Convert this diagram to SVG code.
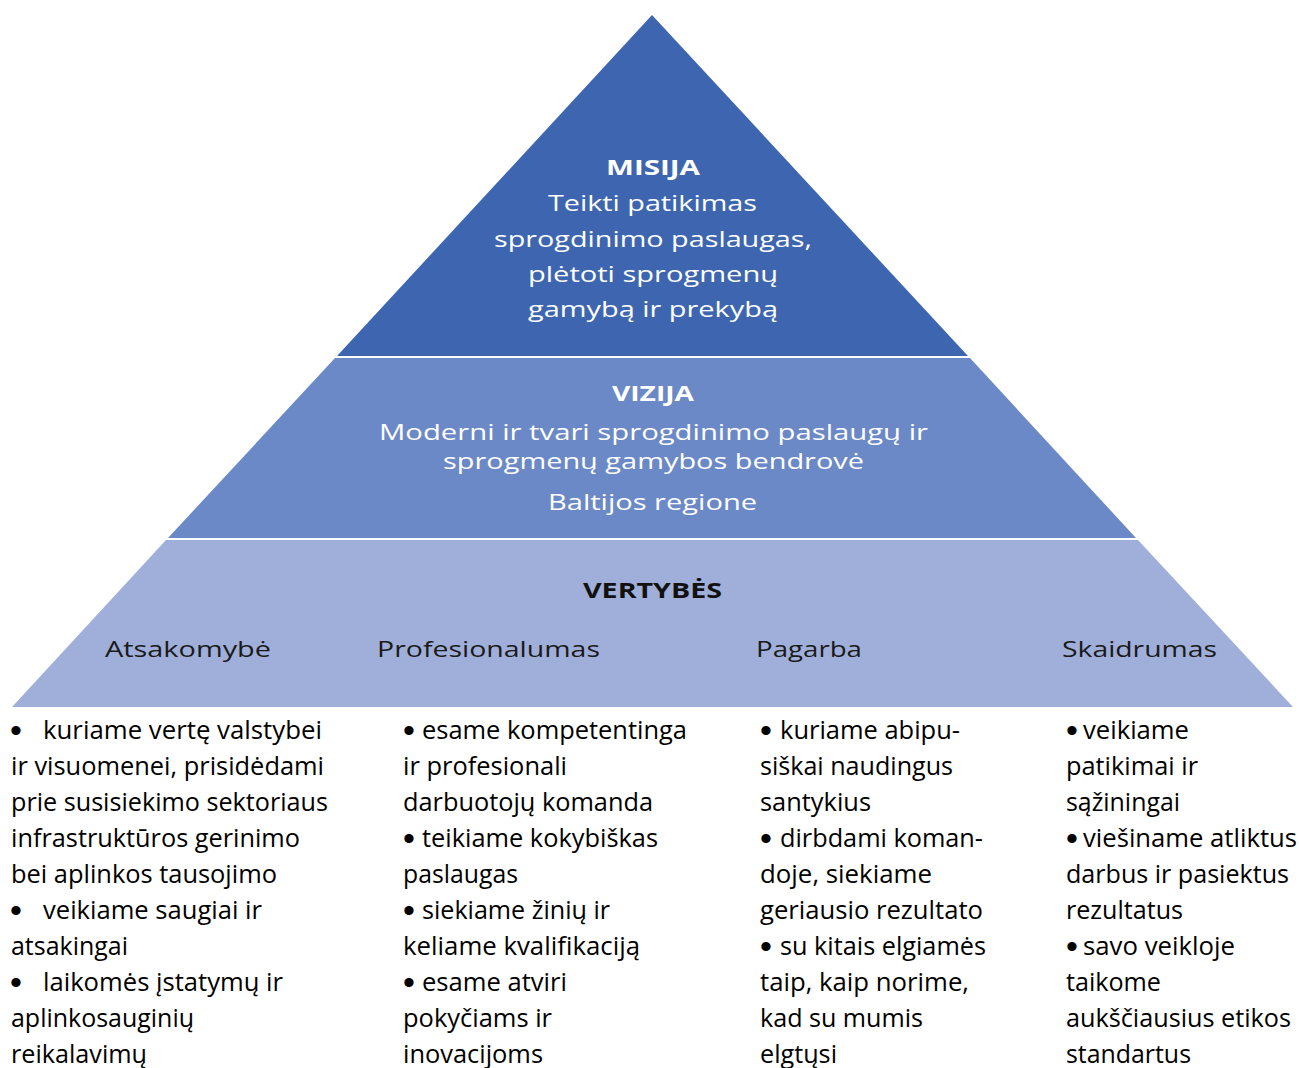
<svg xmlns="http://www.w3.org/2000/svg" width="1299" height="1068" viewBox="0 0 1299 1068">
<style>
.band-top{fill:#3E66B0}
.band-mid{fill:#6B89C7}
.band-bot{fill:#9FAFD9}
.pw{font-family:"Open Sans","Noto Sans",sans-serif;fill:#FFFFFF;font-size:22px}
.pwb{font-family:"Open Sans","Noto Sans",sans-serif;fill:#FFFFFF;font-size:22px;font-weight:bold}
.pd{font-family:"Open Sans","Noto Sans",sans-serif;fill:#1A1A1A;font-size:21px}
.pdb{font-family:"Open Sans","Noto Sans",sans-serif;fill:#111111;font-size:21px;font-weight:bold}
.b{font-family:"Open Sans","Noto Sans",sans-serif;fill:#000000;font-size:25px}
.bl{font-family:"Liberation Sans",Arial,sans-serif;fill:#000000;font-size:34px;text-anchor:middle}
</style>
<rect width="1299" height="1068" fill="#FFFFFF"/>
<g id="misija">
<polygon class="band-top" points="652,15 968,356 337,356"/>
<text class="pwb" x="606" y="175" textLength="94" lengthAdjust="spacingAndGlyphs">MISIJA</text>
<text class="pw" x="548" y="211" textLength="209" lengthAdjust="spacingAndGlyphs">Teikti patikimas</text>
<text class="pw" x="494" y="247" textLength="318" lengthAdjust="spacingAndGlyphs">sprogdinimo paslaugas,</text>
<text class="pw" x="528" y="282" textLength="250" lengthAdjust="spacingAndGlyphs">plėtoti sprogmenų</text>
<text class="pw" x="528" y="317" textLength="250" lengthAdjust="spacingAndGlyphs">gamybą ir prekybą</text>
</g>
<g id="vizija">
<polygon class="band-mid" points="335,358 970,358 1136,538 168,538"/>
<text class="pwb" x="612" y="401" textLength="82" lengthAdjust="spacingAndGlyphs">VIZIJA</text>
<text class="pw" x="379" y="440" textLength="549" lengthAdjust="spacingAndGlyphs">Moderni ir tvari sprogdinimo paslaugų ir</text>
<text class="pw" x="443" y="469" textLength="421" lengthAdjust="spacingAndGlyphs">sprogmenų gamybos bendrovė</text>
<text class="pw" x="548" y="510" textLength="209" lengthAdjust="spacingAndGlyphs">Baltijos regione</text>
</g>
<g id="vertybes">
<polygon class="band-bot" points="166,540 1138,540 1293,707 12,707"/>
<text class="pdb" x="583" y="598" textLength="139" lengthAdjust="spacingAndGlyphs">VERTYBĖS</text>
<text class="pd" x="105" y="657" textLength="166" lengthAdjust="spacingAndGlyphs">Atsakomybė</text>
<text class="pd" x="377" y="657" textLength="223" lengthAdjust="spacingAndGlyphs">Profesionalumas</text>
<text class="pd" x="756" y="657" textLength="106" lengthAdjust="spacingAndGlyphs">Pagarba</text>
<text class="pd" x="1062" y="657" textLength="155" lengthAdjust="spacingAndGlyphs">Skaidrumas</text>
</g>
<g id="atsakomybe-list">
<text class="bl" x="16" y="742">•</text>
<text class="b" x="43" y="739" textLength="279" lengthAdjust="spacingAndGlyphs">kuriame vertę valstybei</text>
<text class="b" x="11" y="775" textLength="313" lengthAdjust="spacingAndGlyphs">ir visuomenei, prisidėdami</text>
<text class="b" x="11" y="811" textLength="317" lengthAdjust="spacingAndGlyphs">prie susisiekimo sektoriaus</text>
<text class="b" x="11" y="847" textLength="289" lengthAdjust="spacingAndGlyphs">infrastruktūros gerinimo</text>
<text class="b" x="11" y="883" textLength="266" lengthAdjust="spacingAndGlyphs">bei aplinkos tausojimo</text>
<text class="bl" x="16" y="922">•</text>
<text class="b" x="43" y="919" textLength="219" lengthAdjust="spacingAndGlyphs">veikiame saugiai ir</text>
<text class="b" x="11" y="955" textLength="117" lengthAdjust="spacingAndGlyphs">atsakingai</text>
<text class="bl" x="16" y="994">•</text>
<text class="b" x="43" y="991" textLength="240" lengthAdjust="spacingAndGlyphs">laikomės įstatymų ir</text>
<text class="b" x="11" y="1027" textLength="183" lengthAdjust="spacingAndGlyphs">aplinkosauginių</text>
<text class="b" x="11" y="1063" textLength="136" lengthAdjust="spacingAndGlyphs">reikalavimų</text>
</g>
<g id="profesionalumas-list">
<text class="bl" x="409" y="742">•</text>
<text class="b" x="422" y="739" textLength="265" lengthAdjust="spacingAndGlyphs">esame kompetentinga</text>
<text class="b" x="403" y="775" textLength="164" lengthAdjust="spacingAndGlyphs">ir profesionali</text>
<text class="b" x="403" y="811" textLength="250" lengthAdjust="spacingAndGlyphs">darbuotojų komanda</text>
<text class="bl" x="409" y="850">•</text>
<text class="b" x="422" y="847" textLength="236" lengthAdjust="spacingAndGlyphs">teikiame kokybiškas</text>
<text class="b" x="403" y="883" textLength="115" lengthAdjust="spacingAndGlyphs">paslaugas</text>
<text class="bl" x="409" y="922">•</text>
<text class="b" x="422" y="919" textLength="188" lengthAdjust="spacingAndGlyphs">siekiame žinių ir</text>
<text class="b" x="403" y="955" textLength="237" lengthAdjust="spacingAndGlyphs">keliame kvalifikaciją</text>
<text class="bl" x="409" y="994">•</text>
<text class="b" x="422" y="991" textLength="145" lengthAdjust="spacingAndGlyphs">esame atviri</text>
<text class="b" x="403" y="1027" textLength="149" lengthAdjust="spacingAndGlyphs">pokyčiams ir</text>
<text class="b" x="403" y="1063" textLength="140" lengthAdjust="spacingAndGlyphs">inovacijoms</text>
</g>
<g id="pagarba-list">
<text class="bl" x="766" y="742">•</text>
<text class="b" x="780" y="739" textLength="180" lengthAdjust="spacingAndGlyphs">kuriame abipu-</text>
<text class="b" x="760" y="775" textLength="193" lengthAdjust="spacingAndGlyphs">siškai naudingus</text>
<text class="b" x="760" y="811" textLength="111" lengthAdjust="spacingAndGlyphs">santykius</text>
<text class="bl" x="766" y="850">•</text>
<text class="b" x="780" y="847" textLength="203" lengthAdjust="spacingAndGlyphs">dirbdami koman-</text>
<text class="b" x="760" y="883" textLength="172" lengthAdjust="spacingAndGlyphs">doje, siekiame</text>
<text class="b" x="760" y="919" textLength="223" lengthAdjust="spacingAndGlyphs">geriausio rezultato</text>
<text class="bl" x="766" y="958">•</text>
<text class="b" x="780" y="955" textLength="206" lengthAdjust="spacingAndGlyphs">su kitais elgiamės</text>
<text class="b" x="760" y="991" textLength="209" lengthAdjust="spacingAndGlyphs">taip, kaip norime,</text>
<text class="b" x="760" y="1027" textLength="163" lengthAdjust="spacingAndGlyphs">kad su mumis</text>
<text class="b" x="760" y="1063" textLength="77" lengthAdjust="spacingAndGlyphs">elgtųsi</text>
</g>
<g id="skaidrumas-list">
<text class="bl" x="1072" y="742">•</text>
<text class="b" x="1083" y="739" textLength="106" lengthAdjust="spacingAndGlyphs">veikiame</text>
<text class="b" x="1066" y="775" textLength="132" lengthAdjust="spacingAndGlyphs">patikimai ir</text>
<text class="b" x="1066" y="811" textLength="114" lengthAdjust="spacingAndGlyphs">sąžiningai</text>
<text class="bl" x="1072" y="850">•</text>
<text class="b" x="1083" y="847" textLength="214" lengthAdjust="spacingAndGlyphs">viešiname atliktus</text>
<text class="b" x="1066" y="883" textLength="223" lengthAdjust="spacingAndGlyphs">darbus ir pasiektus</text>
<text class="b" x="1066" y="919" textLength="117" lengthAdjust="spacingAndGlyphs">rezultatus</text>
<text class="bl" x="1072" y="958">•</text>
<text class="b" x="1083" y="955" textLength="152" lengthAdjust="spacingAndGlyphs">savo veikloje</text>
<text class="b" x="1066" y="991" textLength="95" lengthAdjust="spacingAndGlyphs">taikome</text>
<text class="b" x="1066" y="1027" textLength="225" lengthAdjust="spacingAndGlyphs">aukščiausius etikos</text>
<text class="b" x="1066" y="1063" textLength="125" lengthAdjust="spacingAndGlyphs">standartus</text>
</g>
<g id="connectors"/>
</svg>
